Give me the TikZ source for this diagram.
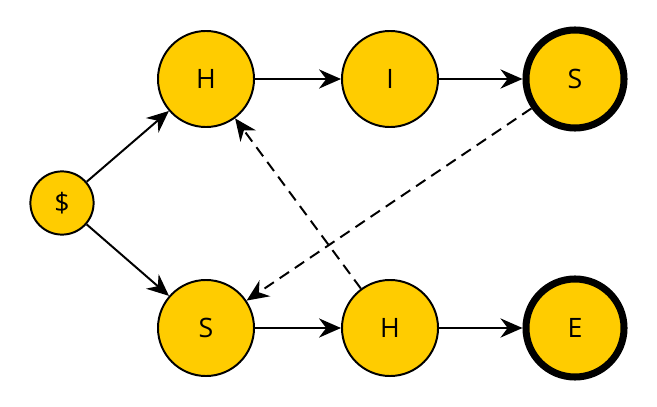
\documentclass[tikz,border=0pt]{standalone}
\usepackage{fontspec}
\setmainfont{Open Sans}
\usetikzlibrary{arrows.meta}
\definecolor{stategold}{HTML}{FFCC00}

\begin{document}
\begin{tikzpicture}[x=0.025cm, y=-0.025cm,
  state/.style={circle, draw, line width=1.4pt, fill=stategold, minimum size=2.4cm, inner sep=0pt, font=\fontsize{19}{21}\selectfont},
  accept/.style={state, line width=5pt, minimum size=2.45cm},
  edge/.style={line width=1.4pt, -{Stealth[length=0.55cm, width=0.48cm, inset=0.18cm]}}]
\useasboundingbox (0,0) rectangle (657,407);

% states
\draw node[state, minimum size=1.58cm] (root) at (62, 203) {\$};
\draw node[state] (h1) at (206, 79) {H};
\draw node[state] (i1) at (390, 79) {I};
\draw node[accept] (s1) at (575, 79) {S};
\draw node[state] (s2) at (206, 328) {S};
\draw node[state] (h2) at (390, 328) {H};
\draw node[accept] (e2) at (575, 328) {E};

% transitions
\draw[edge] (root) -- (h1);
\draw[edge] (root) -- (s2);
\draw[edge] (h1) -- (i1);
\draw[edge] (i1) -- (s1);
\draw[edge] (s2) -- (h2);
\draw[edge] (h2) -- (e2);

% failure links
\draw[edge, dash pattern=on 8pt off 5pt] (s1) -- (s2);
\draw[edge, dash pattern=on 8pt off 5pt] (h2) -- (h1);
\end{tikzpicture}
\end{document}
